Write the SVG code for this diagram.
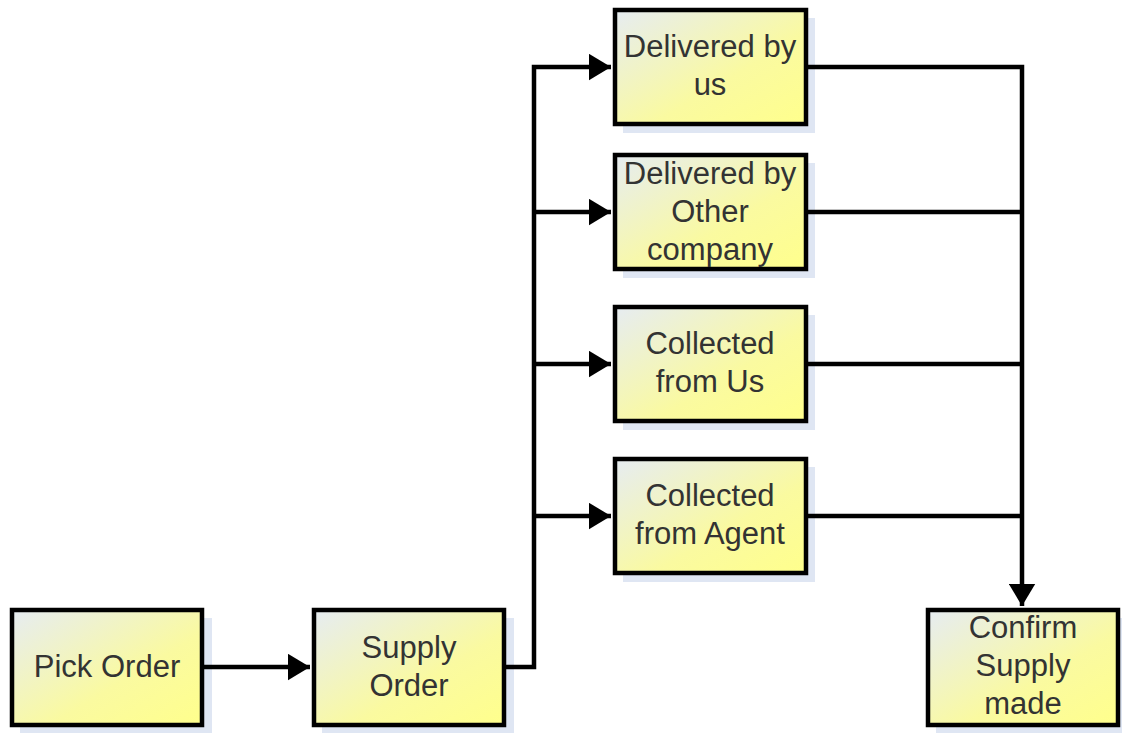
<svg xmlns="http://www.w3.org/2000/svg" width="1122" height="733" viewBox="0 0 1122 733">
<style>
.box{fill:url(#g);stroke:#000;stroke-width:4.5}
.sh{fill:#dfe6f3}
.t{font-family:"Liberation Sans",Arial,sans-serif;font-size:31px;fill:#333;text-anchor:middle}
.c{fill:none;stroke:#000;stroke-width:4.5}
</style>
<defs>
<linearGradient id="g" x1="0" y1="0" x2="1" y2="1">
<stop offset="0" stop-color="#e6ecf2"/>
<stop offset="0.6" stop-color="#fafaa0"/>
<stop offset="1" stop-color="#ffff8c"/>
</linearGradient>
<marker id="a" markerWidth="6" markerHeight="6" refX="5" refY="3" orient="auto" markerUnits="strokeWidth">
<path d="M0,0 L5,3 L0,6 z" fill="#000"/>
</marker>
</defs>
<g id="pick">
<rect class="sh" x="20" y="618" width="192" height="115"/>
<rect class="box" x="12" y="610" width="190" height="115"/>
<text class="t" x="107" y="677">Pick Order</text>
</g>
<g id="supply">
<rect class="sh" x="322" y="618" width="192" height="115"/>
<rect class="box" x="314" y="610" width="190" height="115"/>
<text class="t" x="409" y="658">Supply</text>
<text class="t" x="409" y="696">Order</text>
</g>
<g id="delus">
<rect class="sh" x="623" y="18" width="192" height="115"/>
<rect class="box" x="615" y="10" width="191" height="114"/>
<text class="t" x="710" y="57">Delivered by</text>
<text class="t" x="710" y="95">us</text>
</g>
<g id="delother">
<rect class="sh" x="623" y="163" width="192" height="115"/>
<rect class="box" x="615" y="155" width="191" height="114"/>
<text class="t" x="710" y="184">Delivered by</text>
<text class="t" x="710" y="222">Other</text>
<text class="t" x="710" y="260">company</text>
</g>
<g id="colus">
<rect class="sh" x="623" y="315" width="192" height="115"/>
<rect class="box" x="615" y="307" width="191" height="114"/>
<text class="t" x="710" y="354">Collected</text>
<text class="t" x="710" y="392">from Us</text>
</g>
<g id="colagent">
<rect class="sh" x="623" y="467" width="192" height="115"/>
<rect class="box" x="615" y="459" width="191" height="114"/>
<text class="t" x="710" y="506">Collected</text>
<text class="t" x="710" y="544">from Agent</text>
</g>
<g id="confirm">
<rect class="sh" x="936" y="618" width="190" height="115"/>
<rect class="box" x="928" y="610" width="190" height="115"/>
<text class="t" x="1023" y="638">Confirm</text>
<text class="t" x="1023" y="676">Supply</text>
<text class="t" x="1023" y="714">made</text>
</g>
<g id="connectors">
<path class="c" d="M204,667 H310" marker-end="url(#a)"/>
<path class="c" d="M506,667 H534 V67 H611" marker-end="url(#a)"/>
<path class="c" d="M534,212 H611" marker-end="url(#a)"/>
<path class="c" d="M534,364 H611" marker-end="url(#a)"/>
<path class="c" d="M534,516 H611" marker-end="url(#a)"/>
<path class="c" d="M808,67 H1022 V606" marker-end="url(#a)"/>
<path class="c" d="M808,212 H1022"/>
<path class="c" d="M808,364 H1022"/>
<path class="c" d="M808,516 H1022"/>
</g>
</svg>
